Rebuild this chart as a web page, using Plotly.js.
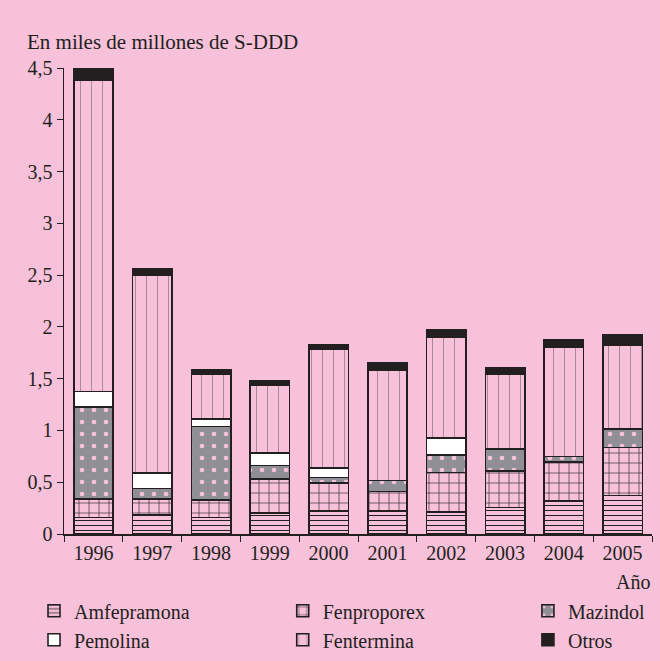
<!DOCTYPE html>
<html><head><meta charset="utf-8">
<script src="https://cdn.plot.ly/plotly-3.0.1.min.js"></script>
<style>html,body{margin:0;padding:0;background:#f6c1d9;}</style>
</head><body><div id="chart" style="width:660px;height:661px;"></div>
<script>
const years = ['1996','1997','1998','1999','2000','2001','2002','2003','2004','2005'];
const amfepramona = [0.16, 0.19, 0.16, 0.20, 0.22, 0.22, 0.215, 0.255, 0.32, 0.37];
const fenproporex = [0.18, 0.15, 0.17, 0.33, 0.275, 0.19, 0.38, 0.355, 0.375, 0.465];
const mazindol    = [0.885, 0.10, 0.71, 0.13, 0.05, 0.105, 0.17, 0.21, 0.055, 0.18];
const pemolina    = [0.15, 0.15, 0.07, 0.125, 0.09, 0.0, 0.16, 0.0, 0.0, 0.0];
const fentermina  = [3.01, 1.91, 0.436, 0.65, 1.145, 1.065, 0.98, 0.725, 1.05, 0.805];
const otros       = [0.11, 0.06, 0.04, 0.045, 0.045, 0.07, 0.07, 0.06, 0.08, 0.105];
const yTicks = [0, 0.5, 1, 1.5, 2, 2.5, 3, 3.5, 4, 4.5];

const pink = '#f6c1d9';
const dark = '#231f20';
const gray = '#8f8f95';
const font = 'Liberation Serif, Times New Roman, serif';
const fsz = 20;
const line = {color: dark, width: 1.6};

function tr(name, y, color, pattern, legend) {
  const t = {type:'bar', name:name, x:years, y:y, legend:legend,
    marker:{color:color, line:line}, hoverinfo:'y'};
  if (pattern) t.marker.pattern = pattern;
  return t;
}
const data = [
  tr('Amfepramona', amfepramona, pink, {shape:'-', fgcolor:dark, bgcolor:pink, size:5, solidity:0.2}, 'legend'),
  tr('Fenproporex', fenproporex, pink, {shape:'+', fgcolor:dark, bgcolor:pink, size:10, solidity:0.12}, 'legend2'),
  tr('Mazindol', mazindol, gray, {shape:'.', fgcolor:pink, bgcolor:gray, size:12, solidity:0.12}, 'legend3'),
  tr('Pemolina', pemolina, '#ffffff', null, 'legend'),
  tr('Fentermina', fentermina, pink, {shape:'|', fgcolor:dark, bgcolor:pink, size:11, solidity:0.08, fgopacity:0.4}, 'legend2'),
  tr('Otros', otros, dark, null, 'legend3')
];

function leg(x) {
  return {orientation:'v', traceorder:'normal', x:x, xanchor:'left', y:-0.123, yanchor:'top',
    font:{family:font, size:fsz, color:dark}, bgcolor:'rgba(0,0,0,0)', borderwidth:0, itemwidth:30};
}

const layout = {
  width:660, height:661,
  barmode:'stack', bargap:0.33,
  paper_bgcolor:pink, plot_bgcolor:pink,
  separators:', ',
  font:{family:font, size:fsz, color:dark},
  margin:{l:64, r:8, t:68, b:127, autoexpand:false},
  showlegend:true,
  legend:leg(-0.051),
  legend2:leg(0.372),
  legend3:leg(0.789),
  xaxis:{type:'category', showline:true, linecolor:dark, linewidth:1.5, ticks:'outside', tickson:'boundaries',
    ticklen:6, tickcolor:dark, showgrid:false, zeroline:false, tickfont:{family:font, size:fsz, color:dark}},
  yaxis:{range:[0,4.5], tickvals:yTicks, showline:true, linecolor:dark, linewidth:1.5, ticks:'outside',
    ticklen:6, tickcolor:dark, showgrid:false, zeroline:false, tickfont:{family:font, size:fsz, color:dark}},
  annotations:[
    {text:'En miles de millones de S-DDD', xref:'paper', yref:'paper', x:-0.066, y:1.056, xanchor:'left', yanchor:'middle',
      showarrow:false, font:{family:font, size:fsz + 1, color:dark}},
    {text:'Año', xref:'paper', yref:'paper', x:1.0, y:-0.103, xanchor:'right', yanchor:'middle',
      showarrow:false, font:{family:font, size:fsz, color:dark}}
  ]
};
Plotly.newPlot('chart', data, layout, {displayModeBar:false, staticPlot:true});
</script></body></html>
